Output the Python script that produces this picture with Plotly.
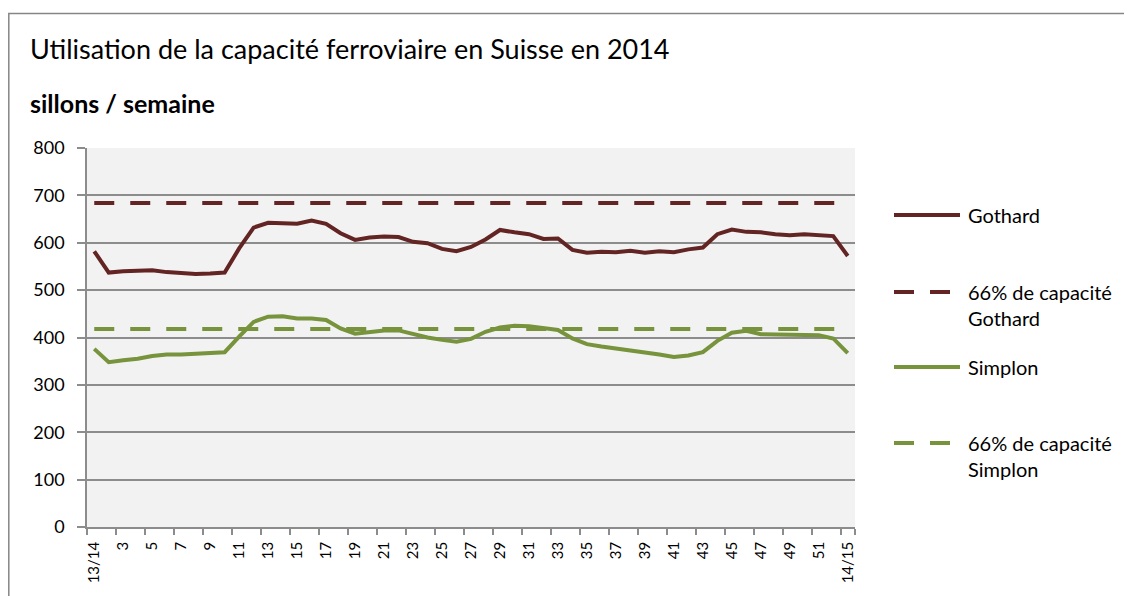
import plotly.graph_objects as go

# ---------------- data ----------------
semaines = ["13/14", "2", "3", "4", "5", "6", "7", "8", "9", "10", "11", "12", "13", "14", "15",
            "16", "17", "18", "19", "20", "21", "22", "23", "24", "25", "26", "27", "28", "29",
            "30", "31", "32", "33", "34", "35", "36", "37", "38", "39", "40", "41", "42", "43",
            "44", "45", "46", "47", "48", "49", "50", "51", "52", "14/15"]

gothard = [582, 537, 540, 541, 542, 538, 536, 534, 535, 537, 588, 632, 642, 641, 640, 647, 640,
           620, 606, 611, 613, 612, 602, 599, 587, 582, 591, 607, 627, 622, 618, 608, 609, 585,
           579, 581, 580, 583, 579, 582, 580, 586, 590, 618, 628, 623, 622, 618, 616, 618, 615,
           614, 572]

simplon = [376, 348, 352, 355, 361, 364, 364, 366, 369, 369, 402, 433, 444, 445, 440, 440, 437,
           419, 408, 411, 415, 415, 407, 400, 395, 391, 397, 412, 421, 425, 424, 421, 416, 398,
           386, 381, 377, 374, 370, 364, 359, 362, 369, 393, 410, 414, 407, 407, 407, 407, 405,
           398, 367]

capacite_gothard = 684
capacite_simplon = 418

noms = ["Gothard", "66% de capacité<br>Gothard", "Simplon", "66% de capacité<br>Simplon"]
y_ticks = [0, 100, 200, 300, 400, 500, 600, 700, 800]
x_tick_labels = semaines[::2]

titre = "Utilisation de la capacité ferroviaire en Suisse en 2014"
sous_titre = "<b>sillons / semaine</b>"

# ---------------- style ----------------
# the page has an 8px body margin: figure is drawn at (8, 8)
OFF = 8
W, H = 1132 - OFF, 596 - OFF
L, R, T, B = 87, 855, 148, 527          # plot area in page pixels
C_GOT = "#632523"
C_SIM = "#77933C"
GRID = "#8C8C8C"
FONT = "Lato"

def px(x):
    return (x - L) / (R - L)

def py(y):
    return (B - y) / (B - T)

fig = go.Figure()
series = [
    (gothard, C_GOT, "solid"),
    ([capacite_gothard] * len(semaines), C_GOT, "20px,16px"),
    (simplon, C_SIM, "solid"),
    ([capacite_simplon] * len(semaines), C_SIM, "20px,16px"),
]
for (vals, col, dash), nom in zip(series, noms):
    fig.add_trace(go.Scatter(x=semaines, y=vals, mode="lines", name=nom,
                             line=dict(color=col, width=4, dash=dash),
                             showlegend=False, hoverinfo="skip"))

shapes = []
annotations = []
# outer chart border
shapes.append(dict(type="rect", xref="paper", yref="paper",
                   x0=px(8.8), x1=px(1150), y0=py(13.5), y1=py(620),
                   line=dict(color="#868686", width=1.5), layer="below"))

# custom legend
legend_rows = [(215, 215), (292, 304.5), (367, 367), (443, 455.5)]
for (ly, ty), (vals, col, dash), nom in zip(legend_rows, series, noms):
    shapes.append(dict(type="line", xref="paper", yref="paper",
                       x0=px(894), x1=px(960), y0=py(ly), y1=py(ly),
                       line=dict(color=col, width=4,
                                 dash="solid" if dash == "solid" else "20px,16px")))
    annotations.append(dict(xref="paper", yref="paper", x=px(966), y=py(ty),
                            text=nom, showarrow=False, xanchor="left", yanchor="middle",
                            align="left", font=dict(family=FONT, size=20, color="#000")))

annotations.append(dict(xref="paper", yref="paper", x=px(28), y=py(48), text=titre,
                        showarrow=False, xanchor="left", yanchor="middle",
                        font=dict(family=FONT, size=27, color="#000")))
annotations.append(dict(xref="paper", yref="paper", x=px(28), y=py(103), text=sous_titre,
                        showarrow=False, xanchor="left", yanchor="middle",
                        font=dict(family=FONT, size=25, color="#000")))

fig.update_layout(
    width=W, height=H,
    margin=dict(l=L - OFF, r=W - (R - OFF), t=T - OFF, b=H - (B - OFF)),
    paper_bgcolor="white", plot_bgcolor="#F2F2F2",
    showlegend=False,
    shapes=shapes, annotations=annotations,
    font=dict(family=FONT, color="#000"),
)
fig.update_xaxes(type="category", range=[-0.5, len(semaines) - 0.5],
                 tickmode="array", tickvals=x_tick_labels, ticktext=x_tick_labels,
                 tickangle=-90, tickfont=dict(family=FONT, size=15, color="#000"),
                 ticklabelstandoff=7,
                 showgrid=False, showline=True, linecolor=GRID, linewidth=1.5,
                 ticks="outside", ticklen=6, tickcolor=GRID, tickwidth=1.5,
                 tickson="boundaries", zeroline=False)
fig.update_yaxes(range=[0, 800], tickmode="array", tickvals=y_ticks,
                 tickfont=dict(family=FONT, size=18, color="#000"),
                 ticklabelstandoff=9,
                 showgrid=True, gridcolor=GRID, gridwidth=1.5,
                 showline=True, linecolor=GRID, linewidth=1.5,
                 ticks="outside", ticklen=8, tickcolor=GRID, tickwidth=1.5,
                 zeroline=False)

fig.write_html("out.html")
